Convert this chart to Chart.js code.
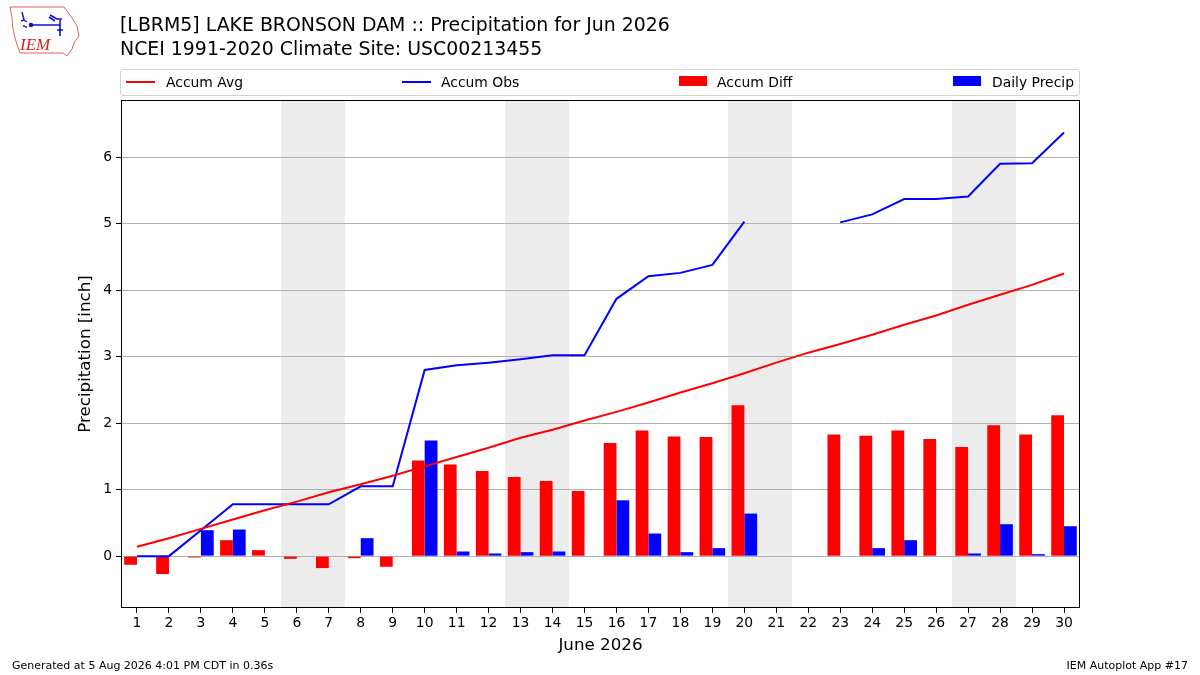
<!DOCTYPE html>
<html>
<head>
<meta charset="utf-8">
<script src="https://cdn.jsdelivr.net/npm/chart.js@4.4.1/dist/chart.umd.min.js"></script>
<style>
  body { margin: 0; background: #fff; font-family: "DejaVu Sans", sans-serif; }
  #wrap { position: relative; width: 1200px; height: 675px; overflow: hidden; background: #fff; }
  #grafico { position: absolute; left: 0; top: 0; }
  .txt { position: absolute; white-space: nowrap; color: #000; }
  #legenda { position: absolute; left: 120px; top: 69px; width: 958px; height: 25px;
             border: 1px solid #d3d3d3; border-radius: 3px; background: rgba(255,255,255,0.8); }
  .item { position: absolute; top: 0; height: 25px; line-height: 25px; font-size: 13.9px; }
</style>
</head>
<body>
<div id="wrap">
  <canvas id="grafico" width="1200" height="675"></canvas>

  <!-- logo IEM simplificado -->
  <svg style="position:absolute;left:0;top:0" width="90" height="62" viewBox="0 0 90 62">
    <path d="M10,7 L64,7 Q68,12 72,18 L77,26 L79,36 L74,43 L72,49 L67,56 L63,53 L20,53 Q17,45 15,38 Q12,27 12,18 Z"
          fill="none" stroke="#e06060" stroke-width="1"/>
    <path d="M22,12 L24,20 L27,22 M24,20 L21,21" stroke="#2020c0" stroke-width="1.5" fill="none"/>
    <circle cx="31" cy="25" r="2.3" fill="#1010c0"/>
    <path d="M31,25 L60,25 M50,15 L57,19 L62,19 M49,17 L55,21 M60,20 L60,36 M57,30 L63,30" stroke="#1010c0" stroke-width="1.6" fill="none"/>
    <circle cx="24" cy="26" r="1" fill="#1010c0"/><circle cx="26" cy="27" r="1" fill="#1010c0"/>
    <text x="20" y="50" font-family="Liberation Serif" font-style="italic" font-size="17" fill="#d02020">IEM</text>
  </svg>

  <div class="txt" style="left:120px;top:12px;font-size:18.9px;line-height:24px;">[LBRM5] LAKE BRONSON DAM :: Precipitation for Jun 2026<br>NCEI 1991-2020 Climate Site: USC00213455</div>

  <div id="legenda"></div>

  <div class="txt" style="left:12px;top:659px;font-size:11px;">Generated at 5 Aug 2026 4:01 PM CDT in 0.36s</div>
  <div class="txt" style="right:12px;top:659px;font-size:11px;">IEM Autoplot App #17</div>
</div>

<script>
// Dados do gráfico
const dias = ['1','2','3','4','5','6','7','8','9','10','11','12','13','14','15',
              '16','17','18','19','20','21','22','23','24','25','26','27','28','29','30'];
const acumMedia = [0.14, 0.27, 0.41, 0.55, 0.69, 0.82, 0.96, 1.08, 1.21, 1.35,
                   1.49, 1.63, 1.78, 1.90, 2.04, 2.17, 2.31, 2.46, 2.60, 2.75,
                   2.91, 3.06, 3.19, 3.33, 3.48, 3.62, 3.78, 3.93, 4.08, 4.25];
const acumObs = [0, 0, 0.39, 0.78, 0.78, 0.78, 0.78, 1.05, 1.05, 2.80,
                 2.87, 2.91, 2.96, 3.02, 3.02, 3.87, 4.21, 4.26, 4.38, 5.03,
                 null, null, 5.02, 5.14, 5.37, 5.37, 5.41, 5.90, 5.91, 6.37];
const acumDif = [-0.13, -0.27, -0.02, 0.24, 0.09, -0.04, -0.18, -0.03, -0.16, 1.44,
                 1.38, 1.28, 1.19, 1.13, 0.98, 1.70, 1.89, 1.80, 1.79, 2.27,
                 null, null, 1.83, 1.81, 1.89, 1.76, 1.64, 1.97, 1.83, 2.12];
const precipDiaria = [0, 0, 0.39, 0.40, 0, 0, 0, 0.27, 0, 1.74,
                      0.07, 0.04, 0.06, 0.07, 0, 0.84, 0.34, 0.06, 0.12, 0.64,
                      null, null, 0, 0.12, 0.24, 0, 0.04, 0.48, 0.03, 0.45];
const fimDeSemana = [6, 7, 13, 14, 20, 21, 27, 28];
const ticksY = [0, 1, 2, 3, 4, 5, 6];

const fonte = '"DejaVu Sans", sans-serif';

// Faixas cinzas dos fins de semana + moldura do gráfico
const pluginFundo = {
  id: 'fundo',
  beforeDraw(chart) {
    const { ctx, chartArea, scales } = chart;
    const x = scales.x;
    const meio = (x.getPixelForValue(1) - x.getPixelForValue(0)) / 2;
    ctx.save();
    ctx.fillStyle = '#ececec';
    fimDeSemana.forEach(d => {
      // arredonda as bordas para não deixar emenda entre dias vizinhos
      const esq = Math.round(x.getPixelForValue(d - 1) - meio);
      const dir = Math.round(x.getPixelForValue(d - 1) + meio);
      ctx.fillRect(esq, chartArea.top, dir - esq, chartArea.bottom - chartArea.top);
    });
    ctx.restore();
  },
  afterDraw(chart) {
    const { ctx, chartArea } = chart;
    ctx.save();
    ctx.strokeStyle = '#000';
    ctx.lineWidth = 1;
    ctx.strokeRect(chartArea.left + 0.5, chartArea.top + 0.5,
                   chartArea.right - chartArea.left - 1, chartArea.bottom - chartArea.top - 1);
    ctx.restore();
  }
};

const ctx = document.getElementById('grafico').getContext('2d');
const grafico = new Chart(ctx, {
  type: 'bar',
  data: {
    labels: dias,
    datasets: [
      { type: 'line', label: 'Accum Avg', data: acumMedia, borderColor: '#ff0000',
        borderWidth: 2, pointRadius: 0, fill: false, tension: 0, order: 0 },
      { type: 'line', label: 'Accum Obs', data: acumObs, borderColor: '#0000ff',
        borderWidth: 2, pointRadius: 0, fill: false, tension: 0, spanGaps: false, order: 0 },
      { label: 'Accum Diff', data: acumDif, backgroundColor: '#ff0000',
        borderWidth: 0, categoryPercentage: 0.8, barPercentage: 1.0, order: 1 },
      { label: 'Daily Precip', data: precipDiaria, backgroundColor: '#0000ff',
        borderWidth: 0, categoryPercentage: 0.8, barPercentage: 1.0, order: 1 }
    ]
  },
  options: {
    responsive: false,
    animation: false,
    devicePixelRatio: 1,
    layout: { padding: { left: 72, top: 100, right: 120, bottom: 17 } },
    plugins: { legend: { display: false }, tooltip: { enabled: false }, title: { display: false } },
    scales: {
      x: {
        offset: true,
        grid: { offset: false, drawOnChartArea: false, drawTicks: true, tickLength: 5, tickColor: '#000' },
        border: { display: false },
        ticks: { color: '#000', font: { family: fonte, size: 13.9 }, padding: 2, maxRotation: 0, autoSkip: false },
        title: { display: true, text: 'June 2026', color: '#000', font: { family: fonte, size: 16.7 }, padding: { top: 4, bottom: 2 } },
        afterFit(axis) { axis.height = 50; }
      },
      y: {
        min: -0.78,
        max: 6.86,
        afterBuildTicks(axis) { axis.ticks = ticksY.map(v => ({ value: v })); },
        grid: { color: '#b0b0b0', lineWidth: 1, drawTicks: true, tickLength: 5, tickColor: '#000' },
        border: { display: false },
        ticks: { color: '#000', font: { family: fonte, size: 13.9 }, padding: 4 },
        title: { display: true, text: 'Precipitation [inch]', color: '#000', font: { family: fonte, size: 16.7 }, padding: { top: 4, bottom: 4 } },
        afterFit(axis) { axis.width = 49; }
      }
    }
  },
  plugins: [pluginFundo]
});

// Legenda em HTML a partir dos datasets
const posLegenda = [
  { marca: 5, texto: 45 },
  { marca: 281, texto: 320 },
  { marca: 558, texto: 596 },
  { marca: 832, texto: 871 }
];
const legenda = document.getElementById('legenda');
grafico.data.datasets.forEach((ds, i) => {
  const p = posLegenda[i];
  const marca = document.createElement('div');
  marca.style.position = 'absolute';
  marca.style.left = p.marca + 'px';
  if (ds.type === 'line') {
    marca.style.top = '11px';
    marca.style.width = '29px';
    marca.style.height = '2px';
    marca.style.background = ds.borderColor;
  } else {
    marca.style.top = '6px';
    marca.style.width = '28px';
    marca.style.height = '10px';
    marca.style.background = ds.backgroundColor;
  }
  legenda.appendChild(marca);
  const txt = document.createElement('div');
  txt.className = 'item';
  txt.style.left = p.texto + 'px';
  txt.textContent = ds.label;
  legenda.appendChild(txt);
});
</script>
</body>
</html>
